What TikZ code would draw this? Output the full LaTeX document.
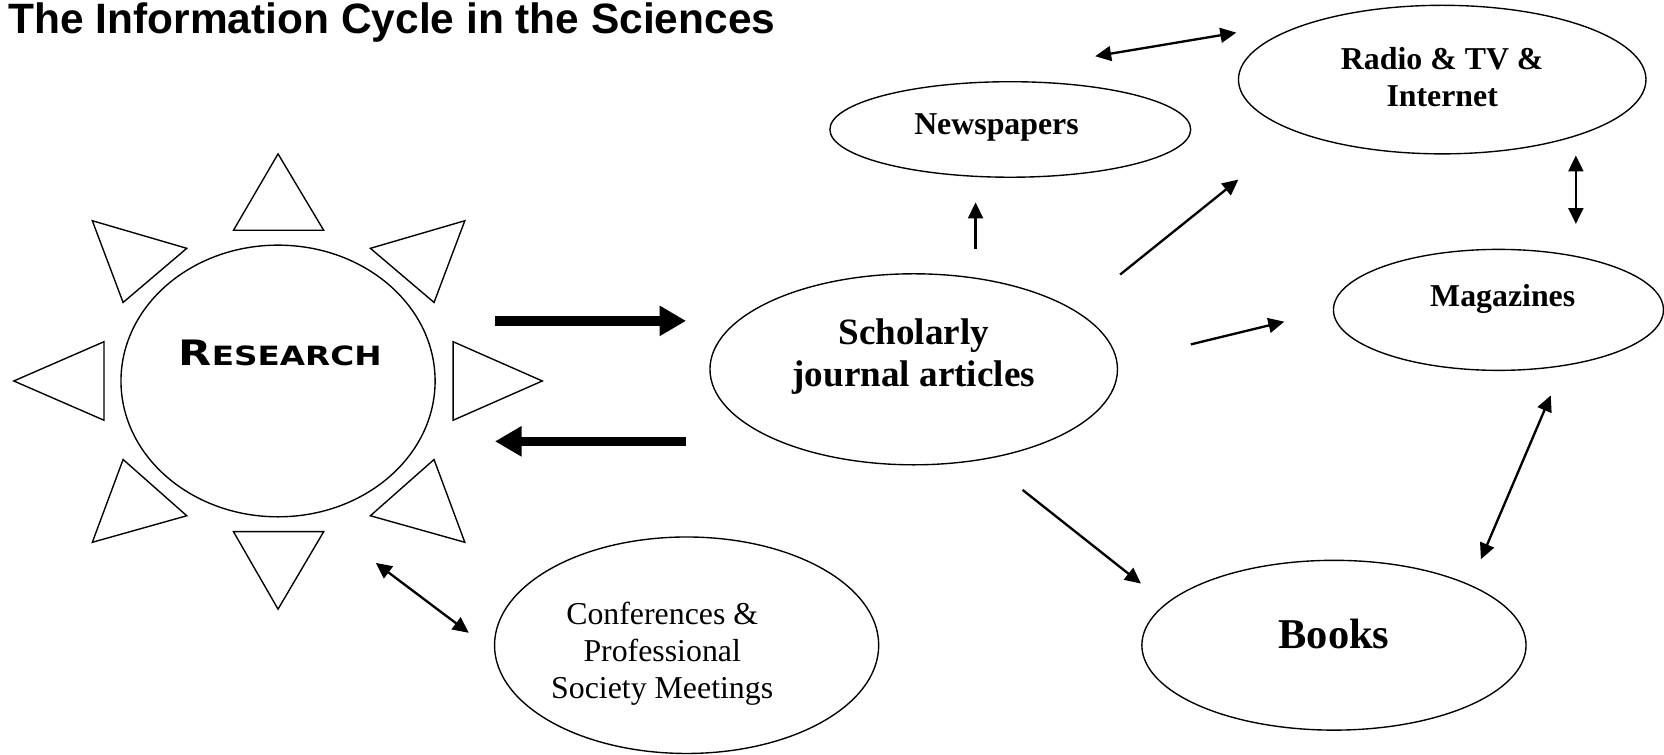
\documentclass[tikz,border=0pt]{standalone}
\usepackage{fontspec}
\setmainfont{Liberation Serif}
\newfontfamily\headfont{Liberation Sans}
\newfontfamily\capsfont[FakeStretch=1.23]{DejaVu Sans}
\usetikzlibrary{shapes.geometric,arrows.meta}

\begin{document}
\begin{tikzpicture}[x=1pt,y=-1pt, oval/.style={draw,ellipse,line width=1.3pt,inner sep=0pt},ray/.style={draw,line width=1.3pt,line join=miter},link/.style={line width=2.2pt},flow/.style={line width=9pt,-{Triangle[length=25pt,width=27pt]}},>={Triangle[length=15pt,width=14pt]}]
              \useasboundingbox (0,0) rectangle (1568,711);
              \node[anchor=base west,inner sep=0pt,font=\headfont\bfseries\fontsize{40}{48}\selectfont] (title) at (8,32) {The Information Cycle in the Sciences};

              \node[oval,minimum width=296pt,minimum height=256pt,label={[xshift=2pt,yshift=26pt]center:{\capsfont\bfseries\fontsize{33}{38}\selectfont R\fontsize{25}{30}\selectfont ESEARCH}}] (res) at (262,359) {};
              \draw[ray] (262,145) -- (305,217) -- (220,217) -- cycle;
              \draw[ray] (438,208) -- (409,285) -- (349,234) -- cycle;
              \draw[ray] (511,359) -- (427,396) -- (427,322) -- cycle;
              \draw[ray] (438,511) -- (349,486) -- (409,433) -- cycle;
              \draw[ray] (262,574) -- (220,501) -- (305,501) -- cycle;
              \draw[ray] (87,511) -- (116,433) -- (176,486) -- cycle;
              \draw[ray] (13,359) -- (98,322) -- (98,396) -- cycle;
              \draw[ray] (87,208) -- (176,234) -- (116,285) -- cycle;

              \node[oval,minimum width=384pt,minimum height=180pt,label={[align=center,yshift=12pt,font=\bfseries\fontsize{35}{40}\selectfont]center:Scholarly\\journal articles}] (sj) at (861,348) {};
              \node[oval,minimum width=340pt,minimum height=90pt,label={[xshift=-13pt,yshift=2pt,font=\bfseries\fontsize{30}{35}\selectfont]center:Newspapers}] (np) at (952,122) {};
              \node[oval,minimum width=384pt,minimum height=140pt,label={[align=center,yshift=2pt,font=\bfseries\fontsize{30}{35}\selectfont]center:Radio \& TV \&\\Internet}] (rt) at (1359,75) {};
              \node[oval,minimum width=311pt,minimum height=114pt,label={[xshift=4pt,yshift=10pt,font=\bfseries\fontsize{30}{35}\selectfont]center:Magazines}] (mag) at (1412,292) {};
              \node[oval,minimum width=362pt,minimum height=160pt,label={[yshift=11pt,font=\bfseries\fontsize{40}{48}\selectfont]center:Books}] (bk) at (1257,608) {};
              \node[oval,minimum width=362pt,minimum height=204pt,label={[align=center,xshift=-23pt,yshift=-8pt,font=\fontsize{30}{35}\selectfont]center:Conferences \&\\Professional\\Society Meetings}] (conf) at (647,608) {};
              \coordinate (np-rt) at (1032,53);

              \draw[flow,shorten <=71pt,shorten >=50pt] (res.23) -- (res.23 -| sj.164);
              \draw[flow,shorten <=87pt,shorten >=71pt] (sj.208) -- (sj.208 -| res.-23);
              \draw[link,->,shorten <=27pt,shorten >=24pt] (sj.56) -- (sj.56 |- np.232);
              \draw[link,->,shorten <=54pt,shorten >=71pt] (sj.20) -- (rt.200);
              \draw[link,->,shorten <=71pt,shorten >=47pt] (sj.2) -- (mag.180);
              \draw[link,->,shorten <=46pt,shorten >=30pt] (sj.-52) -- (bk.166);
              \draw[link,<->,shorten >=89pt] (np-rt) -- (rt.151);
              \draw[link,<->,shorten <=18pt,shorten >=30pt] (rt.-23) -- (rt.-23 |- mag.35);
              \draw[link,<->,shorten <=30pt,shorten >=26pt] (mag.-41) -- (bk.24);
              \draw[link,<->,shorten <=76pt,shorten >=30pt] (res.-76) -- (conf.182);
            \end{tikzpicture}
\end{document}
